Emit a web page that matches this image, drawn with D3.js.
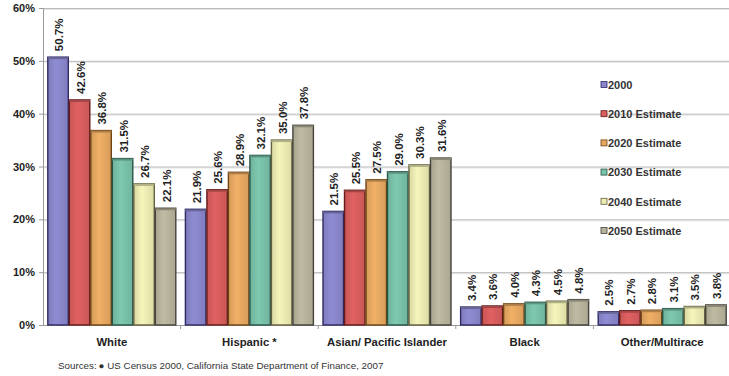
<!DOCTYPE html>
<html><head><meta charset="utf-8">
<script src="https://cdn.jsdelivr.net/npm/d3@7"></script>
<style>
html,body{margin:0;padding:0;background:#fff;}
svg{display:block;font-family:"Liberation Sans",Arial,sans-serif;}
</style></head>
<body>
<svg id="chart" width="729" height="376"></svg>
<script>
const categories = ["White", "Hispanic *", "Asian/ Pacific Islander", "Black", "Other/Multirace"];
const seriesNames = ["2000", "2010 Estimate", "2020 Estimate", "2030 Estimate", "2040 Estimate", "2050 Estimate"];
const s2000 = [50.7, 21.9, 21.5, 3.4, 2.5];
const s2010 = [42.6, 25.6, 25.5, 3.6, 2.7];
const s2020 = [36.8, 28.9, 27.5, 4.0, 2.8];
const s2030 = [31.5, 32.1, 29.0, 4.3, 3.1];
const s2040 = [26.7, 35.0, 30.3, 4.5, 3.5];
const s2050 = [22.1, 37.8, 31.6, 4.8, 3.8];
const yTicks = [0, 10, 20, 30, 40, 50, 60];
const sourceText = "Sources:\u2009\u25CF  US Census 2000, California State Department of Finance, 2007";

const seriesValues = [s2000, s2010, s2020, s2030, s2040, s2050];
const fills = ["#8a86cb", "#d85d5d", "#e7a962", "#79c1a9", "#ecebb2", "#b7b39c"];
const strokes = ["#2f2a66", "#641a1a", "#6e4414", "#285448", "#646240", "#44423a"];

const svg = d3.select("#chart");
const pLeft = 43, pRight = 731, pTop = 8, pBottom = 325;

const x0 = d3.scaleBand().domain(categories).range([pLeft, pRight]).paddingInner(0.0625).paddingOuter(0.03125);
const x1 = d3.scaleBand().domain(seriesNames).range([0, x0.bandwidth()]).padding(0);
const y = d3.scaleLinear().domain([0, 60]).range([pBottom, pTop]);

// gradients
const defs = svg.append("defs");
fills.forEach((c, i) => {
  const g = defs.append("linearGradient").attr("id", "g" + i).attr("x1", "0").attr("x2", "1").attr("y1", "0").attr("y2", "0");
  g.append("stop").attr("offset", "0%").attr("stop-color", d3.color(c).darker(0.25));
  g.append("stop").attr("offset", "40%").attr("stop-color", d3.color(c).brighter(0.12));
  g.append("stop").attr("offset", "100%").attr("stop-color", d3.color(c).darker(0.2));
});

// gridlines
const grid = svg.append("g");
yTicks.filter(t => t > 0).forEach(t => {
  grid.append("line").attr("x1", pLeft).attr("x2", 729).attr("y1", y(t) + 1.5).attr("y2", y(t) + 1.5)
    .attr("stroke", "#e6e6e6").attr("stroke-width", 1);
  grid.append("line").attr("x1", pLeft).attr("x2", 729).attr("y1", y(t) + 0.5).attr("y2", y(t) + 0.5)
    .attr("stroke", "#b9b9b9").attr("stroke-width", 1);
});

// y axis
const yAxis = d3.axisLeft(y).tickValues(yTicks).tickFormat(d => d + "%").tickSize(4).tickPadding(4);
const ya = svg.append("g").attr("transform", `translate(${pLeft},0)`).call(yAxis);
ya.select(".domain").attr("stroke", "#9a9a9a");
ya.selectAll(".tick line").attr("stroke", "#9a9a9a");
ya.selectAll(".tick text").attr("font-size", "11px").attr("font-weight", "bold").attr("fill", "#222")
  .attr("font-family", "'Liberation Sans',Arial,sans-serif");

// x axis
const xAxis = d3.axisBottom(x0).tickSize(0).tickPadding(13);
const xa = svg.append("g").attr("transform", `translate(0,${pBottom})`).call(xAxis);
xa.select(".domain").attr("stroke", "#9a9a9a").attr("d", `M${pLeft},0.5H729`);
xa.selectAll(".tick text").attr("font-size", "11.3px").attr("font-weight", "bold").attr("fill", "#222")
  .attr("font-family", "'Liberation Sans',Arial,sans-serif");
// category separator ticks
categories.slice(1).forEach(c => {
  const xs = x0(c) - x0.step() * x0.paddingInner() / 2;
  svg.append("line").attr("x1", xs).attr("x2", xs).attr("y1", pBottom).attr("y2", pBottom + 4).attr("stroke", "#9a9a9a");
});

// bars
const groups = svg.append("g").selectAll("g").data(categories).join("g")
  .attr("transform", d => `translate(${x0(d)},0)`);
groups.each(function(cat, ci) {
  const g = d3.select(this);
  seriesNames.forEach((s, si) => {
    const v = seriesValues[si][ci];
    const bx = x1(s), bw = x1.bandwidth();
    g.append("rect").attr("x", bx + 0.5).attr("y", y(v)).attr("width", bw - 1).attr("height", pBottom - y(v))
      .attr("fill", `url(#g${si})`).attr("stroke", strokes[si]).attr("stroke-width", 1.4);
    g.append("rect").attr("x", bx + 0.5).attr("y", y(v)).attr("width", bw - 1).attr("height", 2)
      .attr("fill", d3.color(fills[si]).darker(0.8));
    g.append("text")
      .attr("transform", `translate(${bx + bw / 2 + 1},${y(v) - 6}) rotate(-90)`)
      .attr("dy", "0.35em")
      .attr("font-size", "11.5px").attr("font-weight", "bold").attr("fill", "#222")
      .text(v.toFixed(1) + "%");
  });
});

// legend
const legend = svg.append("g");
seriesNames.forEach((s, i) => {
  const ly = 85 + i * 29.2;
  legend.append("rect").attr("x", 601).attr("y", ly - 3.5).attr("width", 6).attr("height", 6)
    .attr("fill", fills[i]).attr("stroke", strokes[i]).attr("stroke-width", 0.8);
  legend.append("text").attr("x", 608).attr("y", ly).attr("dy", "0.35em")
    .attr("font-size", "11px").attr("font-weight", "bold").attr("fill", "#333").text(s);
});

// source
svg.append("text").attr("x", 58).attr("y", 369).attr("font-size", "9.8px").attr("fill", "#333").text(sourceText);
</script>
</body></html>
